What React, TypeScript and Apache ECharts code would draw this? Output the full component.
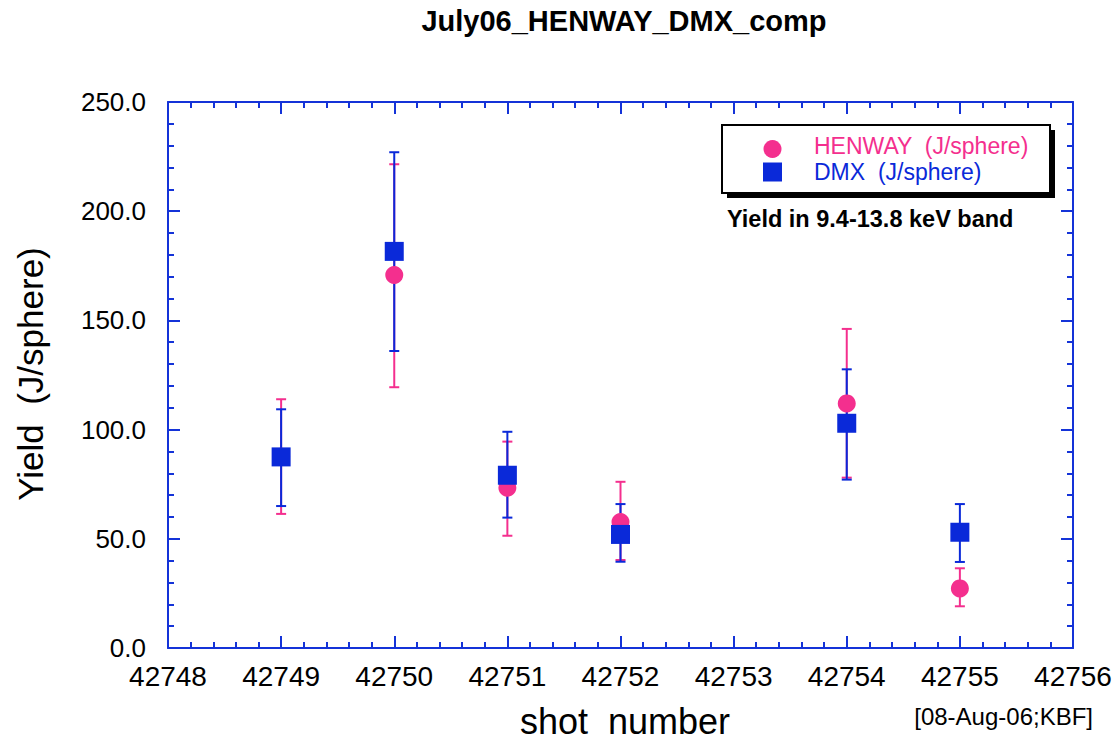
import React, { useEffect, useRef } from "react";
import * as echarts from "echarts";

// Shot numbers and yields (J/sphere) in the 9.4-13.8 keV band
const shots = [42749, 42750, 42751, 42752, 42754, 42755];
const henway = [87.6, 170.8, 73.4, 57.7, 112.0, 27.3];
const henwayLow = [61.4, 119.4, 51.4, 40.3, 78.0, 19.1];
const henwayHigh = [113.9, 221.5, 94.5, 76.1, 146.1, 36.5];
const dmx = [87.5, 181.6, 79.1, 52.0, 102.9, 53.0];
const dmxLow = [65.0, 136.0, 59.7, 39.5, 77.1, 39.4];
const dmxHigh = [109.3, 227.0, 99.0, 65.9, 127.6, 65.9];

const PINK = "#f42f8e";
const BLUE = "#0a29d9";
const AXIS = "#1433d8";
const FONT = "'Liberation Sans', Arial, Helvetica, sans-serif";

function errorBarSeries(name: string, color: string, low: number[], high: number[]) {
  return {
    name,
    type: "custom",
    xAxisIndex: 0,
    yAxisIndex: 0,
    encode: { x: 0, y: [1, 2] },
    data: shots.map((s, i) => [s, low[i], high[i]]),
    renderItem: (params: any, api: any) => {
      const x = api.value(0);
      const pLo = api.coord([x, api.value(1)]);
      const pHi = api.coord([x, api.value(2)]);
      const hw = 5;
      const st = { stroke: color, lineWidth: 2 };
      return {
        type: "group",
        children: [
          { type: "line", shape: { x1: pLo[0], y1: pLo[1], x2: pHi[0], y2: pHi[1] }, style: st },
          { type: "line", shape: { x1: pLo[0] - hw, y1: pLo[1], x2: pLo[0] + hw, y2: pLo[1] }, style: st },
          { type: "line", shape: { x1: pHi[0] - hw, y1: pHi[1], x2: pHi[0] + hw, y2: pHi[1] }, style: st },
        ],
      };
    },
  };
}

function frameAxis(extra: any) {
  return {
    axisLine: { show: true, onZero: false, lineStyle: { color: AXIS, width: 2 } },
    axisTick: { show: true, inside: true, length: 12, lineStyle: { color: AXIS, width: 2 } },
    minorTick: { show: true, splitNumber: 5, length: 6, lineStyle: { color: AXIS, width: 2 } },
    splitLine: { show: false },
    minorSplitLine: { show: false },
    ...extra,
  };
}

export default function App() {
  const ref = useRef<HTMLDivElement>(null);

  useEffect(() => {
    if (!ref.current) return;
    const chart = echarts.init(ref.current, null, { renderer: "svg" });
    chart.setOption({
      animation: false,
      backgroundColor: "#ffffff",
      grid: { left: 168, top: 102, right: 44, bottom: 92 },
      xAxis: [
        frameAxis({
          type: "value",
          position: "bottom",
          min: 42748,
          max: 42756,
          interval: 1,
          axisLabel: {
            show: true,
            margin: 14,
            color: "#000",
            fontFamily: FONT,
            fontSize: 28,
            formatter: (v: number) => String(v),
          },
        }),
        frameAxis({
          type: "value",
          position: "top",
          min: 42748,
          max: 42756,
          interval: 1,
          axisLabel: { show: false },
        }),
      ],
      yAxis: [
        frameAxis({
          type: "value",
          position: "left",
          min: 0,
          max: 250,
          interval: 50,
          axisLabel: {
            show: true,
            margin: 22,
            color: "#000",
            fontFamily: FONT,
            fontSize: 26,
            formatter: (v: number) => v.toFixed(1),
          },
        }),
        frameAxis({
          type: "value",
          position: "right",
          min: 0,
          max: 250,
          interval: 50,
          axisLabel: { show: false },
        }),
      ],
      series: [
        errorBarSeries("HENWAY error", PINK, henwayLow, henwayHigh),
        errorBarSeries("DMX error", BLUE, dmxLow, dmxHigh),
        {
          name: "HENWAY (J/sphere)",
          type: "scatter",
          symbol: "circle",
          symbolSize: 18,
          itemStyle: { color: PINK, opacity: 1 },
          data: shots.map((s, i) => [s, henway[i]]),
        },
        {
          name: "DMX (J/sphere)",
          type: "scatter",
          symbol: "rect",
          symbolSize: 19,
          itemStyle: { color: BLUE, opacity: 1 },
          data: shots.map((s, i) => [s, dmx[i]]),
        },
      ],
      graphic: [
        {
          type: "text",
          x: 624,
          y: 21,
          style: {
            text: "July06_HENWAY_DMX_comp",
            font: `bold 29px ${FONT}`,
            fill: "#000",
            align: "center",
            verticalAlign: "middle",
          },
        },
        {
          type: "text",
          x: 30,
          y: 374,
          rotation: Math.PI / 2,
          style: {
            text: "Yield  (J/sphere)",
            font: `35px ${FONT}`,
            fill: "#000",
            align: "center",
            verticalAlign: "middle",
          },
        },
        {
          type: "text",
          x: 625,
          y: 721,
          style: {
            text: "shot  number",
            font: `36px ${FONT}`,
            fill: "#000",
            align: "center",
            verticalAlign: "middle",
          },
        },
        {
          type: "text",
          x: 1093,
          y: 716,
          style: {
            text: "[08-Aug-06;KBF]",
            font: `24px ${FONT}`,
            fill: "#000",
            align: "right",
            verticalAlign: "middle",
          },
        },
        // legend box with drop shadow
        {
          type: "rect",
          shape: { x: 727, y: 130, width: 328, height: 68 },
          style: { fill: "#000" },
        },
        {
          type: "rect",
          shape: { x: 722, y: 125, width: 328, height: 68 },
          style: { fill: "#fff", stroke: "#000", lineWidth: 2 },
        },
        {
          type: "circle",
          shape: { cx: 772.5, cy: 149, r: 9 },
          style: { fill: PINK },
        },
        {
          type: "rect",
          shape: { x: 763, y: 162.5, width: 19, height: 19 },
          style: { fill: BLUE },
        },
        {
          type: "text",
          x: 814,
          y: 146,
          style: {
            text: "HENWAY  (J/sphere)",
            font: `23px ${FONT}`,
            fill: PINK,
            align: "left",
            verticalAlign: "middle",
          },
        },
        {
          type: "text",
          x: 814,
          y: 172,
          style: {
            text: "DMX  (J/sphere)",
            font: `23px ${FONT}`,
            fill: BLUE,
            align: "left",
            verticalAlign: "middle",
          },
        },
        {
          type: "text",
          x: 727,
          y: 219,
          style: {
            text: "Yield in 9.4-13.8 keV band",
            font: `bold 23.5px ${FONT}`,
            fill: "#000",
            align: "left",
            verticalAlign: "middle",
          },
        },
      ],
    });
    return () => chart.dispose();
  }, []);

  return (
    <div
      ref={ref}
      style={{ position: "fixed", left: 0, top: 0, width: 1117, height: 740, background: "#fff" }}
    />
  );
}
